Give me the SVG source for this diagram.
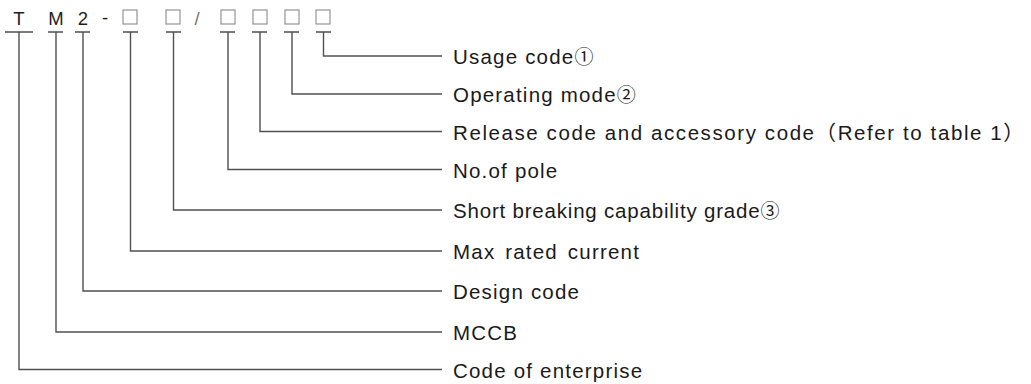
<svg xmlns="http://www.w3.org/2000/svg" width="1031" height="384" viewBox="0 0 1031 384">
<style>
.bg{fill:#ffffff}
.code{font-family:"Liberation Sans","DejaVu Sans",sans-serif;font-size:18.5px;fill:#1e1e1e;text-anchor:middle}
.box{fill:none;stroke:#8a8a8a;stroke-width:1.1}
.ul{stroke:#333333;stroke-width:1.3}
.con{fill:none;stroke:#505050;stroke-width:1.4}
.lbl{font-family:"Liberation Sans","Noto Sans CJK SC",sans-serif;font-size:20.5px;fill:#1a1a1a;letter-spacing:1.2px}
.circ{font-family:"Noto Sans CJK SC",sans-serif;font-size:19px}
</style>
<rect class="bg" x="0" y="0" width="1031" height="384"/>
<g id="code-row">
<text class="code" x="19" y="25">T</text>
<text class="code" x="56" y="25">M</text>
<text class="code" x="83" y="25">2</text>
<text class="code" x="105" y="24">-</text>
<text class="code" x="197" y="25" style="fill:#777">/</text>
<rect class="box" x="123" y="10" width="14" height="14"/>
<rect class="box" x="166" y="10" width="14" height="14"/>
<rect class="box" x="221" y="10" width="14" height="14"/>
<rect class="box" x="253" y="10" width="14" height="14"/>
<rect class="box" x="285" y="10" width="14" height="14"/>
<rect class="box" x="316" y="10" width="14" height="14"/>
<line class="ul" x1="5" y1="32" x2="33" y2="32"/>
<line class="ul" x1="48" y1="32" x2="63" y2="32"/>
<line class="ul" x1="75" y1="32" x2="90" y2="32"/>
<line class="ul" x1="123" y1="32" x2="138" y2="32"/>
<line class="ul" x1="166" y1="32" x2="181" y2="32"/>
<line class="ul" x1="220" y1="32" x2="235" y2="32"/>
<line class="ul" x1="252" y1="32" x2="267" y2="32"/>
<line class="ul" x1="284" y1="32" x2="299" y2="32"/>
<line class="ul" x1="316" y1="32" x2="331" y2="32"/>
</g>
<g id="connectors">
<polyline class="con" points="323.5,32 323.5,56 442,56"/>
<polyline class="con" points="292,32 292,94 442,94"/>
<polyline class="con" points="260,32 260,131.5 442,131.5"/>
<polyline class="con" points="228,32 228,169.5 442,169.5"/>
<polyline class="con" points="173.5,32 173.5,210 442,210"/>
<polyline class="con" points="130.5,32 130.5,251 442,251"/>
<polyline class="con" points="83,32 83,291 442,291"/>
<polyline class="con" points="56,32 56,332 442,332"/>
<polyline class="con" points="19,32 19,369.5 442,369.5"/>
</g>
<g id="label-usage"><text class="lbl" x="453" y="64">Usage code<tspan class="circ">①</tspan></text></g>
<g id="label-operating"><text class="lbl" x="453" y="102">Operating mode<tspan class="circ">②</tspan></text></g>
<g id="label-release"><text class="lbl" x="453" y="139.5" textLength="572" lengthAdjust="spacing">Release code and accessory code（Refer to table 1）</text></g>
<g id="label-pole"><text class="lbl" x="453" y="177.5">No.of pole</text></g>
<g id="label-short"><text class="lbl" x="453" y="218" style="letter-spacing:0.8px">Short breaking capability grade<tspan class="circ">③</tspan></text></g>
<g id="label-max"><text class="lbl" x="453" y="259" word-spacing="3">Max rated current</text></g>
<g id="label-design"><text class="lbl" x="453" y="299">Design code</text></g>
<g id="label-mccb"><text class="lbl" x="453" y="340">MCCB</text></g>
<g id="label-enterprise"><text class="lbl" x="453" y="377.5">Code of enterprise</text></g>
</svg>
